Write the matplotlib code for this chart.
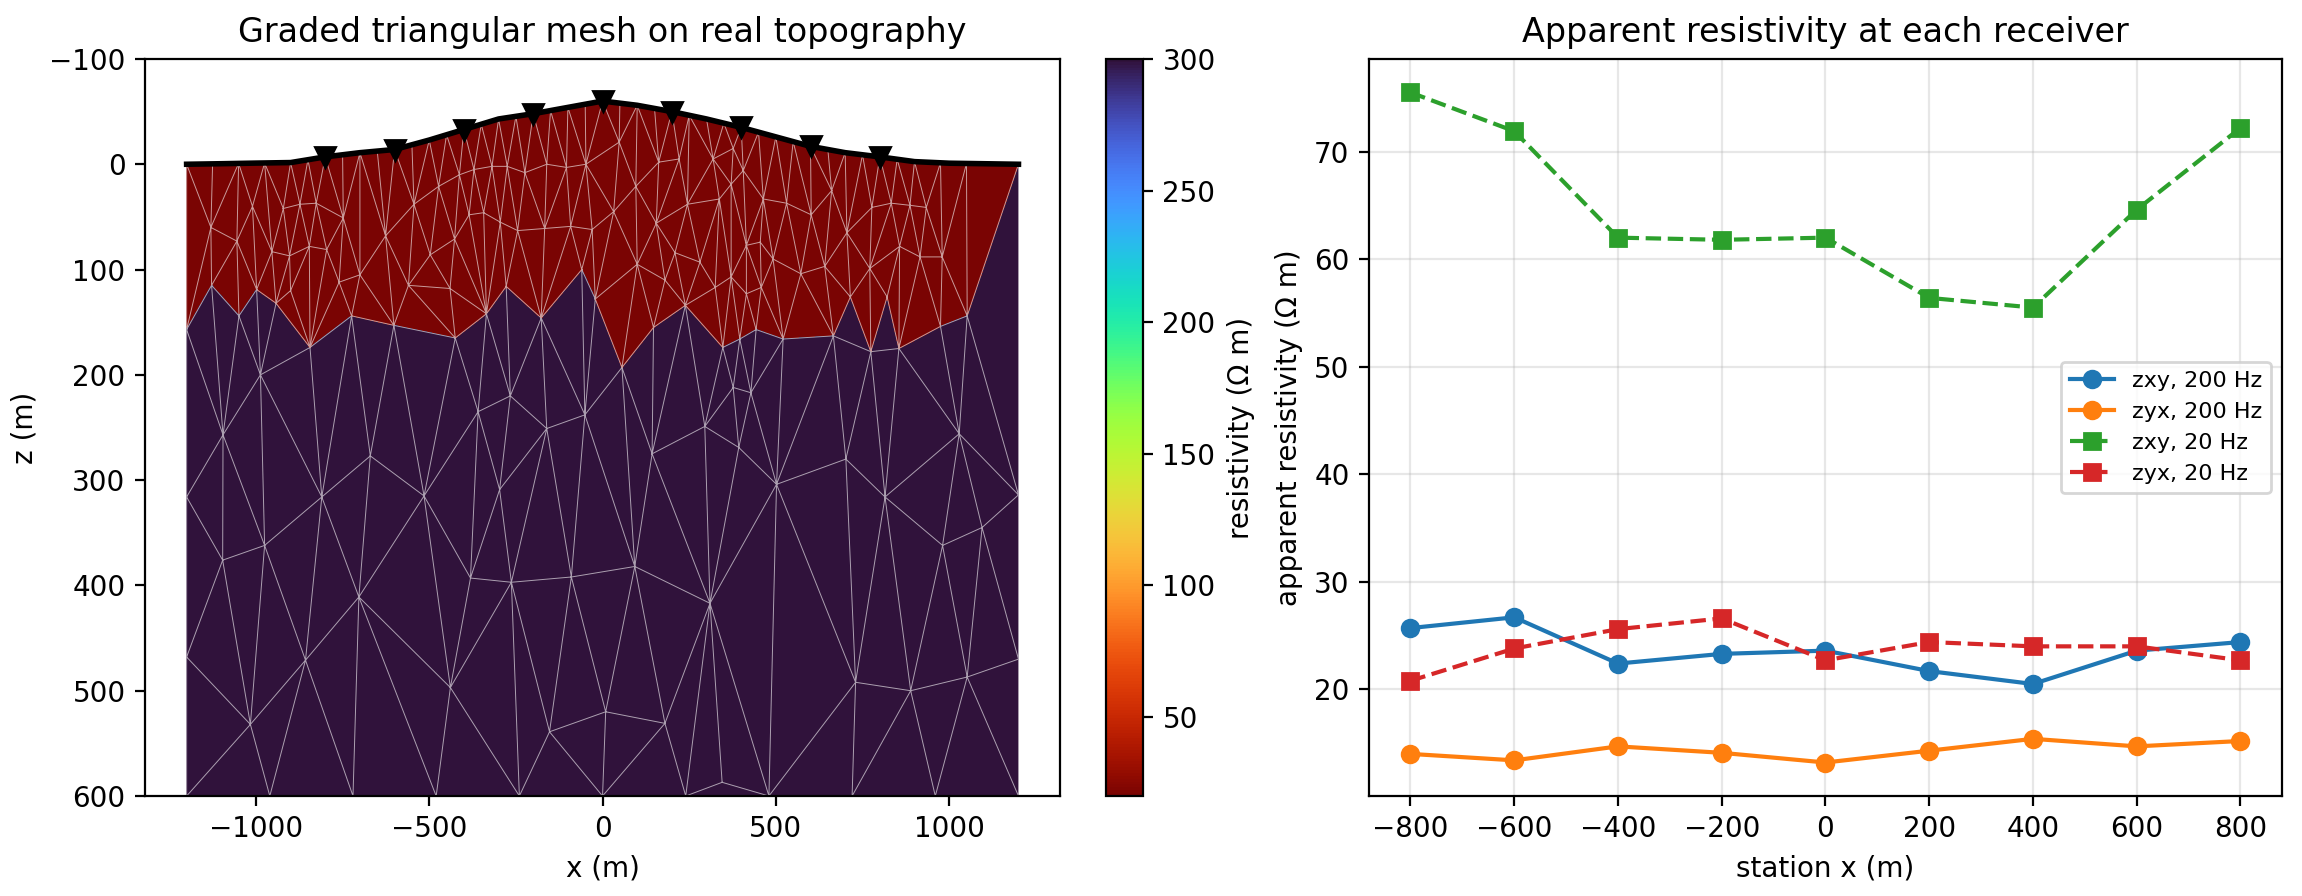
import numpy as np
import matplotlib
matplotlib.use("Agg")
import matplotlib.pyplot as plt
import matplotlib.tri as mtri

# topography (x in m, z in m, z positive down)
topo_x = [-1200, -1100, -1000, -900, -800, -700, -600, -500, -400, -300, -200, -100,
          0, 100, 200, 300, 400, 500, 600, 700, 800, 900, 1000, 1100, 1200]
topo_z = [0, -0.5, -1.1, -1.6, -7, -11, -14, -23, -33, -43, -48, -54,
          -60, -56, -50, -43, -35, -26, -17, -11, -7, -2.5, -1, -0.5, 0]

# receivers
rx = [-800, -600, -400, -200, 0, 200, 400, 600, 800]

# mesh nodes on the surface
surf_x = [-1200, -1125, -1050, -975, -900, -850, -800, -750, -700, -650, -600, -550,
          -500, -450, -400, -350, -300, -250, -200, -150, -100, -50, 0, 50, 100, 150,
          200, 250, 300, 350, 400, 450, 500, 550, 600, 650, 700, 750, 800, 850, 900,
          975, 1050, 1200]

# interior mesh nodes (x, z)
node_x = [-1055, -954, -903, -921, -873, -826, -846, -796, -1130, -1010,
          -748, -626, -544, -473, -413, -371, -319, -275, -224, -161, -104, -48,
          48, 96, 162, 221, 319, 377,
          406, 371, 337, 464, 531, 602, 661, 705, 777, 833, 887, 934,
          415, 455, 492, 572, 641, 771, 857, 916, 980,
          325, 371, 415, 458,
          -497, -427, -385, -343, -295, -245, -167, -92, -30, 32, 155, 209, 245, 281,
          -700, -560, -440, -60, 100, 180, -760, -900,
          # layer boundary
          -1200, -1128, -1049, -998, -987, -942, -844, -724, -602, -425, -335, -278,
          -177, -21, 56, 147, 239, 347, 396, 443, 521, 666, 715, 774, 821, 855, 975, 1052,
          # deeper
          -1200, -1095, -975, -810, -670, -515, -359, -266, -297, -161, -51, 143, 295,
          377, 428, 393, 502, 702, 815, 1029, 1200, 1095, 981,
          -1096, -703, -381, -263, -90, 93, 310,
          -1200, -857, -1016, -439, -153, 9, 180, 345, 730, 889, 1052, 1200,
          # bottom
          -1200, -960, -720, -480, -240, 0, 240, 480, 720, 960, 1200]
node_z = [73, 83, 87, 42, 38, 37, 78, 81, 60, 40,
          51, 68, 38, 21, 10, 5, 2, 2, 8, 0, 3, 0,
          -21, 21, -2, -5, -5, -15,
          6, 19, 33, 33, 37, 48, 25, 65, 41, 37, 39, 41,
          77, 74, 90, 104, 97, 99, 78, 88, 88,
          117, 107, 123, 117,
          86, 71, 48, 46, 55, 63, 61, 59, 62, 45, 56, 84, 38, 93,
          105, 115, 118, 100, 95, 110, 112, 120,
          157, 115, 144, 119, 200, 132, 174, 144, 153, 165, 142, 116,
          146, 128, 193, 155, 134, 174, 166, 157, 166, 163, 126, 178, 126, 175, 154, 144,
          316, 257, 362, 316, 277, 315, 235, 220, 309, 251, 238, 275, 249,
          212, 217, 269, 304, 280, 316, 256, 314, 345, 362,
          376, 411, 393, 397, 392, 382, 417,
          468, 471, 532, 497, 539, 520, 531, 587, 492, 500, 487, 470,
          600, 600, 600, 600, 600, 600, 600, 600, 600, 600, 600]

# resistivity of the two layers (ohm m)
rho_top = 20
rho_bottom = 300
layer_depth = 150

# apparent resistivity at the stations
stations = [-800, -600, -400, -200, 0, 200, 400, 600, 800]
zxy_200 = [25.7, 26.7, 22.4, 23.3, 23.6, 21.7, 20.5, 23.6, 24.4]
zyx_200 = [14.0, 13.4, 14.7, 14.1, 13.2, 14.3, 15.4, 14.7, 15.2]
zxy_20 = [75.5, 71.9, 62.0, 61.8, 62.0, 56.4, 55.5, 64.6, 72.2]
zyx_20 = [20.8, 23.8, 25.6, 26.6, 22.7, 24.4, 24.0, 24.0, 22.7]

# build the mesh
surf_z = np.interp(surf_x, topo_x, topo_z)
px = np.concatenate([surf_x, node_x]).astype(float)
pz = np.concatenate([surf_z, node_z]).astype(float)
tri = mtri.Triangulation(px, pz)
cx = px[tri.triangles].mean(axis=1)
cz = pz[tri.triangles].mean(axis=1)
tri.set_mask(cz < np.interp(cx, topo_x, topo_z) - 0.05)
rho = np.where(cz < layer_depth, rho_top, rho_bottom)

rz = [topo_z[topo_x.index(s)] for s in rx]

fig = plt.figure(figsize=(11.51, 4.48), dpi=200)
ax1 = fig.add_axes([0.0630, 0.1116, 0.3975, 0.8226])
cax = fig.add_axes([0.4805, 0.1116, 0.0160, 0.8226])
ax2 = fig.add_axes([0.5947, 0.1116, 0.3966, 0.8226])

tpc = ax1.tripcolor(tri, facecolors=rho, cmap="turbo_r", vmin=20, vmax=300)
ax1.triplot(tri, color="w", lw=0.35, alpha=0.6)
ax1.plot(topo_x, topo_z, "k-", lw=2)
ax1.plot(rx, rz, "kv", ms=7)
ax1.set_ylim(600, -100)
ax1.set_xlim(-1320, 1320)
ax1.set_xlabel("x (m)")
ax1.set_ylabel("z (m)")
ax1.set_title("Graded triangular mesh on real topography")
cb = fig.colorbar(tpc, cax=cax)
cb.set_label("resistivity (Ω m)")

ax2.plot(stations, zxy_200, "o-", label="zxy, 200 Hz")
ax2.plot(stations, zyx_200, "o-", label="zyx, 200 Hz")
ax2.plot(stations, zxy_20, "s--", label="zxy, 20 Hz")
ax2.plot(stations, zyx_20, "s--", label="zyx, 20 Hz")
ax2.set_xticks(stations)
ax2.set_xlabel("station x (m)")
ax2.set_ylabel("apparent resistivity (Ω m)")
ax2.set_title("Apparent resistivity at each receiver")
ax2.grid(alpha=0.3)
ax2.legend(fontsize=8, loc="center right")

fig.savefig("out.png", dpi=200)
